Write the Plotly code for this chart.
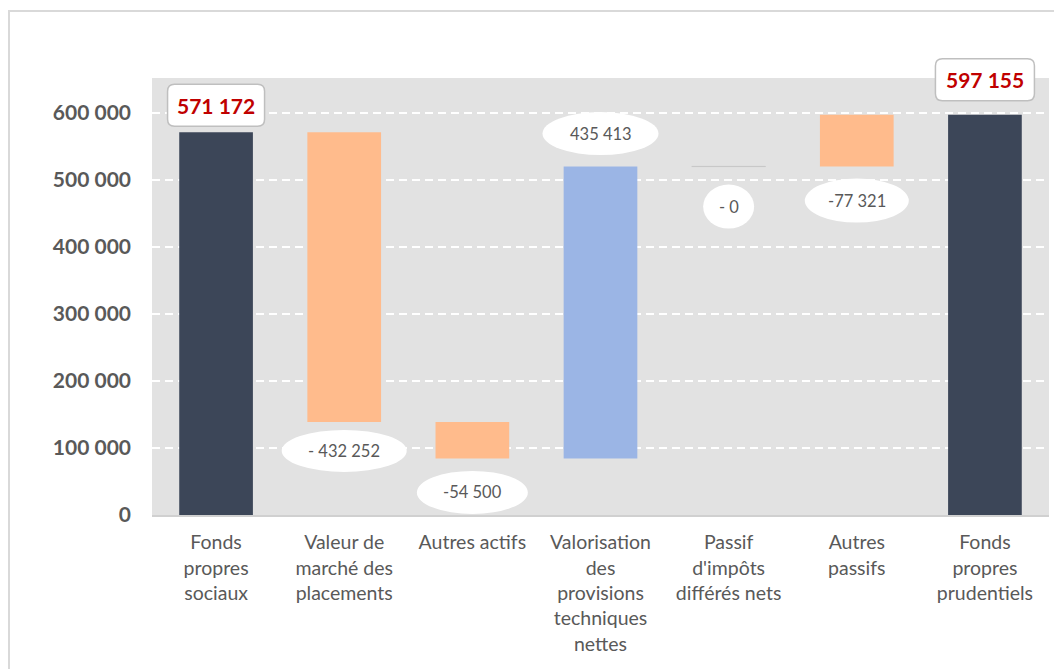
import plotly.graph_objects as go

# ---- data ----
categories = ["Fonds<br>propres<br>sociaux", "Valeur de<br>marché des<br>placements",
              "Autres actifs", "Valorisation<br>des<br>provisions<br>techniques<br>nettes",
              "Passif<br>d'impôts<br>différés nets", "Autres<br>passifs",
              "Fonds<br>propres<br>prudentiels"]
values = [571172, -432252, -54500, 435413, 0, 77321, 597155]
is_total = [True, False, False, False, False, False, True]
label_texts = ["571 172", "- 432 252", "-54 500", "435 413", "- 0", "-77 321", "597 155"]
tick_vals = [0, 100000, 200000, 300000, 400000, 500000, 600000]
tick_text = ["0", "100 000", "200 000", "300 000", "400 000", "500 000", "600 000"]
Y_MAX = 652000

# ---- styles ----
DARK = "#3c4658"
ORANGE = "#ffbb8c"
BLUE = "#9bb5e5"
bar_colors = [DARK, ORANGE, ORANGE, BLUE, "#c8c8c8", ORANGE, DARK]
TXT = "#595959"
FONT = "Lato"
label_anchor = ["top", "bottom", "bottom", "top", "bottom", "bottom", "top"]
label_offset = [27, -29, -34, 33, -40, -34, 35]
label_size = [(97, 42), (125, 42), (111, 43), (116, 43), (51, 44), (104, 44), (99, 42)]

# page body has an 8px margin: figure origin is at (8, 8) in the window
OX, OY = 8, 8
W, H = 1062, 669
PL, PR, PT, PB = 152 - OX, 1049 - OX, 78 - OY, 515 - OY  # plot box in figure px

# ---- compute waterfall geometry ----
bases, heights, tops, bottoms = [], [], [], []
running = 0
for v, tot in zip(values, is_total):
    if tot:
        b = 0
        running = v
    else:
        b = min(running, running + v)
        running = running + v
    bases.append(b)
    heights.append(abs(v) if abs(v) > 0 else 250)
    bottoms.append(b)
    tops.append(b + abs(v))

x_idx = list(range(len(categories)))

fig = go.Figure()
fig.add_trace(go.Bar(
    x=x_idx, y=heights, base=bases, width=0.575,
    marker=dict(color=[c if abs(v) > 0 else "rgba(0,0,0,0)" for c, v in zip(bar_colors, values)],
                line=dict(color=["rgba(0,0,0,0)" if abs(v) > 0 else "#c8c8c8" for v in values], width=1)),
    hoverinfo="skip", showlegend=False,
))

shapes = []
annotations = []
for i in x_idx:
    anchor_val = tops[i] if label_anchor[i] == "top" else bottoms[i]
    anchor_paper = anchor_val / Y_MAX
    w, h = label_size[i]
    off = label_offset[i]
    if is_total[i]:
        r = 7
        x0, x1 = -w / 2, w / 2
        y0, y1 = off - h / 2, off + h / 2
        path = (f"M {x0 + r},{y0} L {x1 - r},{y0} Q {x1},{y0} {x1},{y0 + r} "
                f"L {x1},{y1 - r} Q {x1},{y1} {x1 - r},{y1} L {x0 + r},{y1} "
                f"Q {x0},{y1} {x0},{y1 - r} L {x0},{y0 + r} Q {x0},{y0} {x0 + r},{y0} Z")
        shapes.append(dict(type="path", xref="x", yref="paper", xsizemode="pixel", ysizemode="pixel",
                           xanchor=i, yanchor=anchor_paper, path=path,
                           fillcolor="white", line=dict(color="#bfbfbf", width=1.5)))
        annotations.append(dict(x=i, y=anchor_val, xref="x", yref="y", text=f"<b>{label_texts[i]}</b>",
                                showarrow=False, yshift=off, xanchor="center", yanchor="middle",
                                font=dict(family=FONT, size=21, color="#c00000")))
    else:
        shapes.append(dict(type="circle", xref="x", yref="paper", xsizemode="pixel", ysizemode="pixel",
                           xanchor=i, yanchor=anchor_paper, x0=-w / 2, x1=w / 2,
                           y0=off - h / 2, y1=off + h / 2,
                           fillcolor="white", line=dict(width=0)))
        annotations.append(dict(x=i, y=anchor_val, xref="x", yref="y", text=label_texts[i],
                                showarrow=False, yshift=off, xanchor="center", yanchor="middle",
                                font=dict(family=FONT, size=16.5, color=TXT)))

# outer frame (window px 9,11 -> figure px)
pw, ph = PR - PL, PB - PT
shapes.append(dict(type="rect", xref="paper", yref="paper",
                   x0=(9 - OX - PL) / pw, x1=1.3,
                   y0=-0.6, y1=(PB - (11 - OY)) / ph, line=dict(color="#d9d9d9", width=2),
                   fillcolor="rgba(0,0,0,0)", layer="below"))

fig.update_layout(
    width=W, height=H,
    margin=dict(l=PL, r=W - PR, t=PT, b=H - PB, pad=0),
    paper_bgcolor="white", plot_bgcolor="#e2e2e2",
    font=dict(family=FONT, color=TXT),
    shapes=shapes, annotations=annotations,
)
fig.update_xaxes(
    tickmode="array", tickvals=x_idx, ticktext=categories,
    range=[-0.5, len(categories) - 0.5],
    showgrid=False, zeroline=False, showline=True, linecolor="#d0d0d0", linewidth=1.5,
    tickfont=dict(family=FONT, size=19.5, color=TXT), ticks="", ticklabelstandoff=9,
)
fig.update_yaxes(
    range=[0, Y_MAX], tickmode="array", tickvals=tick_vals, ticktext=tick_text,
    showgrid=True, gridcolor="white", gridwidth=2, griddash="8px,5px",
    zeroline=False, showline=False,
    tickfont=dict(family=FONT, size=21, color=TXT, weight="bold"), ticklabelstandoff=20,
)

fig.write_html("out.html")
